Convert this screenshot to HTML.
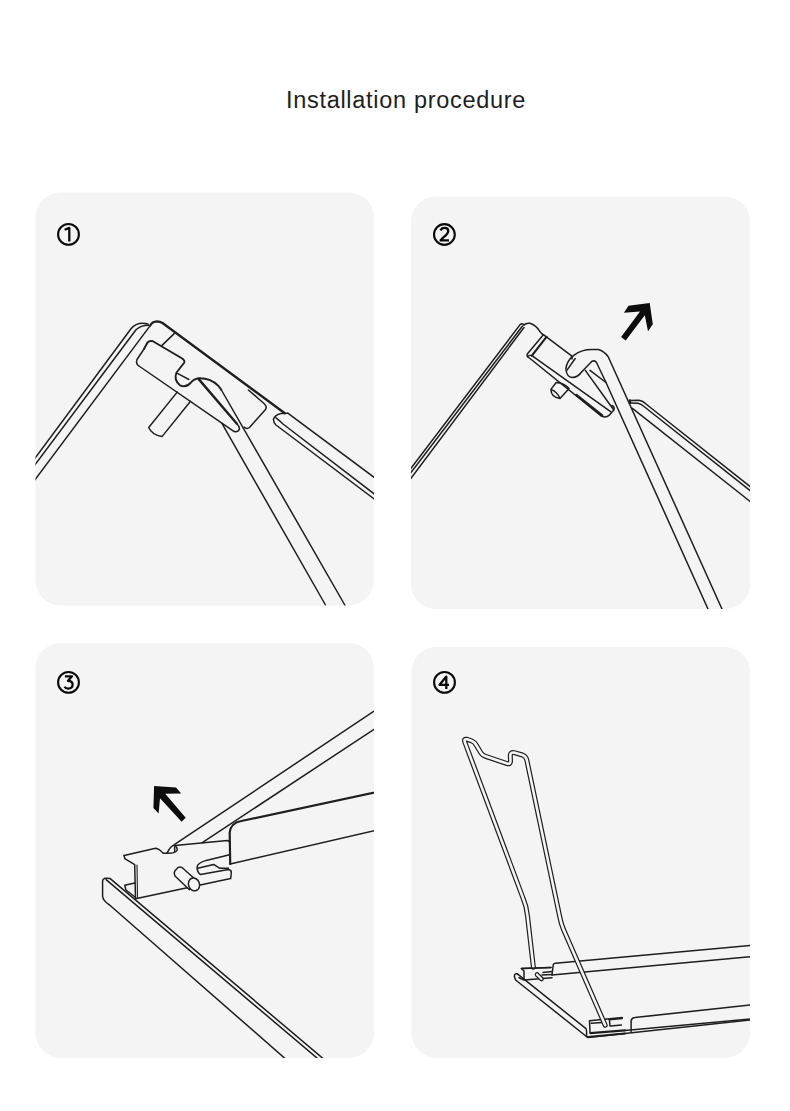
<!DOCTYPE html>
<html><head><meta charset="utf-8">
<style>
html,body{margin:0;padding:0;background:#fff;}
body{width:790px;height:1111px;overflow:hidden;position:relative;font-family:"Liberation Sans",sans-serif;}
svg{position:absolute;left:0;top:0;}
</style></head>
<body>
<svg width="790" height="1111" viewBox="0 0 790 1111">
<defs>
<clipPath id="c1"><rect x="35.5" y="192.5" width="338.5" height="413" rx="25"/></clipPath>
<clipPath id="c2"><rect x="411" y="196.5" width="339" height="412.5" rx="25"/></clipPath>
<clipPath id="c3"><rect x="35.5" y="643" width="338.5" height="415" rx="25"/></clipPath>
<clipPath id="c4"><rect x="411.5" y="647" width="338.5" height="411" rx="25"/></clipPath>
</defs>
<text x="286" y="108" font-family="Liberation Sans" font-size="23.5" letter-spacing="0.7" fill="#1e1e1e">Installation procedure</text>
<g fill="#f4f4f4">
<rect x="35.5" y="192.5" width="338.5" height="413" rx="25"/>
<rect x="411" y="196.5" width="339" height="412.5" rx="25"/>
<rect x="35.5" y="643" width="338.5" height="415" rx="25"/>
<rect x="411.5" y="647" width="338.5" height="411" rx="25"/>
</g>
<!-- circled numbers -->
<g fill="none" stroke="#0a0a0a" stroke-width="2.1">
<circle cx="68.5" cy="234.4" r="10.4"/>
<circle cx="444.4" cy="234.5" r="10.4"/>
<circle cx="68.5" cy="682.4" r="10.4"/>
<circle cx="444.5" cy="682.4" r="10.4"/>
</g>
<g fill="none" stroke="#0a0a0a" stroke-width="2.3" stroke-linejoin="round">
<path d="M64.6,229.8 L69.3,227.9 L69.3,241.5"/>
<path d="M440.5,230.5 Q441.5,227.8 444.6,227.8 Q448.2,227.8 448.2,231 Q448.2,233.5 444,236.8 L440.6,240.4 L449,240.4"/>
<path d="M64.9,676.3 L72,676.3 L68,680.8 Q72.6,680.8 72.6,684.6 Q72.6,688.6 68.3,688.6 Q65.5,688.6 64.5,686.8"/>
<path d="M446.3,689 L446.3,676.6 L439.6,684.8 L449,684.8"/>
</g>

<!-- PANEL1 -->
<g clip-path="url(#c1)" fill="none" stroke="#1e1e1e" stroke-width="1.5" stroke-linecap="round" stroke-linejoin="round">
<path d="M20,478.6 L131,328.8 Q137,321.5 148,324"/>
<path d="M20,484.8 L136,329.8 Q141,325 149,325.2"/>
<path d="M20,499.9 L150.2,325.6"/>
<path d="M150.2,325.6 Q152,321.5 157,321.3 Q160,321.3 162.5,323 L284.8,413.2" stroke-width="2.3"/>
<path d="M174.2,333.6 L162,345.4"/>
<path d="M144,349 L147.5,342.5 Q149.5,340.3 152.9,341.2 L181.8,358.3 Q185.5,360.5 184,363 L176.5,372.5 Q173.5,380 180,385.3 Q186,388 190.5,383 Q194,378.5 199,378.2 Q211,378 218.1,385.7 Q220.5,388.5 221.4,390" stroke-width="1.9"/>
<path d="M221.4,390 L345.1,605.5"/>
<path d="M144,349 L137,359.5 Q135.5,364 139,366 L234.2,431.6 Q238,432.5 239.5,429 Q239.5,426 236.9,423.7"/>
<path d="M198.7,379.1 L236.9,423.7" stroke-width="2.4"/>
<path d="M177.4,373.3 L188.9,379.5"/>
<path d="M221.8,423.2 L325.5,605"/>
<path d="M248.4,390 L264,403.5 Q267.5,406.5 265.5,409.5 L249.5,427.5 Q247,429.5 244,427.2"/>
<path d="M177.2,392.1 L148.7,427.5 Q152,435 162,436.6 L190.5,401.3"/>
<path d="M287.8,413.2 L400,496.5"/>
<path d="M276,417.8 Q279,420 283,424 L400,513.6"/>
<path d="M287.8,413.2 L281,413.6 Q275,415 273.4,419.3 Q273.5,423 276,425 L400,518.4"/>
</g>
<!-- /PANEL1 -->

<!-- PANEL2 -->
<g clip-path="url(#c2)" fill="none" stroke="#1e1e1e" stroke-width="1.5" stroke-linecap="round" stroke-linejoin="round">
<path d="M395,489.2 L520.1,324.6 Q522.5,322.5 524,325"/>
<path d="M395,493.4 L522.5,326"/>
<path d="M395,499.5 L524,327.5"/>
<path d="M524,325 Q526,322.6 530,323.3 Q536,325 540.4,332.2 Q541.5,334 543.4,334.7"/>
<path d="M543.4,334.7 L527.3,354 Q526.5,357 528.8,357.5 L601.4,416.1 Q606,418 609,415.4 L613.8,410 Q615,407 612,405.5"/>
<path d="M546.5,336.8 L531.9,355.6" stroke-width="2.1"/>
<path d="M531.9,355.6 L610.6,411.6"/>
<path d="M531.9,355.6 Q529,355 528,356"/>
<path d="M543.4,334.7 L570.6,355.2 Q573,357 572,359"/>
<path d="M590,370.4 L606,382.5"/>
<path d="M585.3,370.4 L613.8,410"/>
<path d="M576.4,394.9 L602.2,415.4" stroke-width="2.4"/>
<path d="M565.8,369 C567,358 578,349.5 592,349.5 L598.4,349.5 Q604,351 608.2,356.7 L722,609"/>
<path d="M566,370 Q567,377 572,377.5 Q578,377.5 582,371.5 L592,361.3 Q595,360 596.5,362.5 L606,382.5 L708,609"/>
<path d="M566.8,370.4 L575.2,358.5"/>
<path d="M556.2,382.5 Q564,383 569.1,388.6 L560,398.5 M556.2,382.5 L550.9,389.4 Q551,397 560,398.5 M550.9,389.4 Q557.5,392 560,398.5"/>
<path d="M629.9,400.6 L639,400.3 Q643,401 646,404 L760,494.4"/>
<path d="M629.9,402.9 L638,403.3 Q641,404 644,406.5 L760,498.4"/>
<path d="M629.9,400.6 L629.9,402.9" stroke-width="2.5"/>
<path d="M632.1,408.2 L760,509.3"/>
</g>
<polygon fill="#0d0d0d" points="649.7,303 652.8,324.2 648,331.2 644.8,315.2 625.7,340.6 621.1,337.1 640,311.4 623.9,312.8 628.5,305.8"/>
<!-- /PANEL2 -->

<!-- PANEL3 -->
<g clip-path="url(#c3)" fill="none" stroke="#1e1e1e" stroke-width="1.5" stroke-linecap="round" stroke-linejoin="round">
<path d="M167.2,852.8 Q170,847 174.3,844.7 L390,700.4"/>
<path d="M202.3,842.6 L390,718.8"/>
<path d="M230.2,864 L229.7,832.7 Q230.5,823 241.3,821 L390,789.3" stroke-width="2.2"/>
<path d="M230.2,864 L390,827"/>
<path d="M124.1,855.5 L155.6,848.2 Q159,848.5 163.2,853.3 L168.3,853.3 Q173,853.5 176,851.5 Q179,849 175,845.6 L227.4,840.4 Q230,841 230.2,844"/>
<path d="M124.1,855.5 L124.8,858.6 L134.7,864.7 L135.5,898.8"/>
<path d="M137,865 L137.5,898" stroke-width="1.1"/>
<path d="M124.8,885.2 L134.7,882.9 M124.8,885.5 L126,890 L135,897"/>
<path d="M229.6,854.7 L206.2,860.4 Q197.5,863 197.1,867 Q197,872 200.5,874.6 L228.4,869.5 Q231.5,870 231.3,872.5 L230.7,878.6 L135.5,898.8"/>
<path d="M197.7,868.3 L213.6,864.4 L219.9,868.3 L228.4,868.3"/>
<path d="M174.5,845.5 L174.8,852"/>
<path fill="#f4f4f4" d="M176.5,869.2 Q178,866 182,867.5 L194,878.3 L189.4,889.7 L175,876 Q173,872 176.5,869.2 Z"/>
<ellipse fill="#f4f4f4" cx="194" cy="884.4" rx="5.5" ry="6.5" transform="rotate(-20 194 884.4)"/>
<path d="M104.6,878.4 Q106.5,877.8 110.2,878.6 L330,1064.4"/>
<path d="M106.1,879.6 L325,1064.8"/>
<path d="M104.6,878.4 Q102.6,879 102.6,881.1 L102.6,896.3 Q103,901 109.6,905 L300,1071.6"/>
</g>
<polygon fill="#0d0d0d" points="154.1,786.1 176,787.5 181.2,793.5 165.2,793.8 185.7,817.8 181.6,821.7 160,798.3 158.6,813.6 153.4,808.1"/>
<!-- /PANEL3 -->

<!-- PANEL4 -->
<g clip-path="url(#c4)" fill="none" stroke-linecap="round" stroke-linejoin="round">
<g stroke="#1e1e1e" stroke-width="1.5">
<path d="M517.4,973.8 Q514,973 514.5,977 L515.6,980 L587.7,1037.5 L760,1019"/>
<path d="M517.4,973.8 L586,1028.7 Q587,1031 586.4,1036.6"/>
<path d="M552,975 L553.3,964.5 Q554,963 555.5,963.2 L760,944.7"/>
<path d="M552,975 L760,955.9"/>
<path d="M631.1,1031.8 L631.1,1020.7 Q632,1017.6 634.7,1017.6 L760,1003.8"/>
<path d="M625,1030.4 L760,1018"/>
<path d="M521.4,968.5 L551,967.6 M521.4,968.5 L524,971 L524,980 L552,977.8 M519,977.8 L524,980"/>
<path d="M543,972.5 L552,971.6 M542,975 L552,974.6"/>
<path d="M537,974.5 L541.5,979" stroke="#1e1e1e" stroke-width="4.6"/>
<path d="M537,974.5 L541.5,979" stroke="#f4f4f4" stroke-width="2.2"/>
<path d="M589.5,1020.7 L622.3,1017.6 M589.5,1020.7 L590,1032.2 M591.3,1023.3 L601.9,1022.5 M609,1019.8 L622.3,1018.5 M610.7,1026 L621.4,1025.1 M609.5,1020.5 L610,1026"/>
<path d="M590.4,1033.1 L624.9,1030.4" stroke-width="2.2"/>
<path d="M588,1037 L625,1033.5" stroke-width="2.2"/>
</g>
<path stroke="#1e1e1e" stroke-width="5" d="M533.4,967.2 L527.5,916 Q526.5,906 523,898 L464.8,742 Q463.6,738.6 467,739.3 L471.5,740.8 Q474.5,742 476.5,745.5 L481,753 Q482.5,755.5 485.5,756.3 L507,763.6 Q510.5,764.5 510.5,761 L510.3,755 Q510.8,752 514,752.6 L522.5,755 Q526,756.2 526.8,760 L559.8,917 Q561,923.5 563.5,929.5 L605.2,1025.2"/>
<path stroke="#f4f4f4" stroke-width="2.6" d="M533.4,967.2 L527.5,916 Q526.5,906 523,898 L464.8,742 Q463.6,738.6 467,739.3 L471.5,740.8 Q474.5,742 476.5,745.5 L481,753 Q482.5,755.5 485.5,756.3 L507,763.6 Q510.5,764.5 510.5,761 L510.3,755 Q510.8,752 514,752.6 L522.5,755 Q526,756.2 526.8,760 L559.8,917 Q561,923.5 563.5,929.5 L605.2,1025.2"/>
<path d="M521.4,968.5 L551,967.6" stroke="#1e1e1e" stroke-width="1.5"/>
</g>
<!-- /PANEL4 -->
</svg>
</body></html>
